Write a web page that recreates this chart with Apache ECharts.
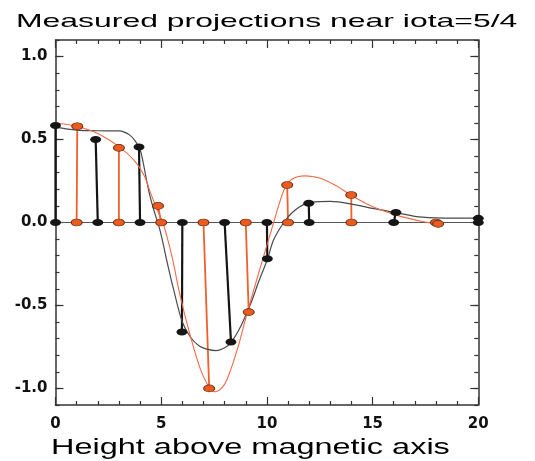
<!DOCTYPE html>
<html>
<head>
<meta charset="utf-8">
<script src="https://cdn.jsdelivr.net/npm/echarts@6/dist/echarts.min.js"></script>
<style>html,body{margin:0;padding:0;background:#fff}#c{width:535px;height:461px}</style>
</head>
<body>
<div id="c"></div>
<script>
const titleText = 'Measured projections near iota=5/4';
const xAxisTitle = 'Height above magnetic axis';
const xTicks = [0, 5, 10, 15, 20];
const yMajorTicks = [-1.0, -0.5, 0.0, 0.5, 1.0];
const yMinorTicks = [-1.1, -1.0, -0.9, -0.8, -0.7, -0.6, -0.5, -0.4, -0.3, -0.2, -0.1, 0.0,
  0.1, 0.2, 0.3, 0.4, 0.5, 0.6, 0.7, 0.8, 0.9, 1.0, 1.1];

// black stems: base position on axis, tip position and value
const blackBaseX = [0, 2, 4, 6, 8, 10, 12, 16, 20];
const blackTipX  = [0, 1.9, 3.95, 5.98, 8.3, 10.02, 11.98, 16.1, 20];
const blackTipY  = [0.585, 0.50, 0.455, -0.66, -0.72, -0.218, 0.116, 0.06, 0.025];

// orange stems
const orangeBaseX = [1, 3, 5, 7, 9, 11, 14, 18];
const orangeTipX  = [1.03, 3.0, 4.85, 7.27, 9.14, 10.96, 13.99, 18.1];
const orangeTipY  = [0.58, 0.45, 0.10, -1.0, -0.54, 0.226, 0.166, -0.008];

// smooth fitted curves
const blackCurveX = [0, 1, 2, 3, 3.25, 3.5, 3.75, 4.0, 4.15, 4.3, 4.45, 4.64, 4.95, 5.3, 5.58, 6.0, 6.38, 6.8, 7.2, 7.6, 8.0, 8.3, 8.77, 9.25, 9.6, 10.03, 10.32, 10.8, 11.2, 11.74, 12.5, 13.0, 14.2, 15.0, 16.1, 17.35, 18.9, 20];
const blackCurveY = [0.575, 0.557, 0.553, 0.552, 0.545, 0.528, 0.495, 0.44, 0.36, 0.26, 0.17, 0.08, -0.05, -0.25, -0.40, -0.60, -0.69, -0.745, -0.765, -0.772, -0.755, -0.724, -0.624, -0.484, -0.36, -0.22, -0.104, 0.0, 0.06, 0.108, 0.126, 0.127, 0.106, 0.085, 0.06, 0.032, 0.026, 0.026];
const orangeCurveX = [0, 1, 2, 3, 3.7, 4.18, 4.5, 4.8, 5.1, 5.5, 5.9, 6.38, 6.86, 7.33, 7.57, 7.85, 8.12, 8.6, 9.07, 9.69, 10.32, 10.6, 10.9, 11.2, 11.5, 11.8, 12.2, 12.6, 13.3, 13.96, 14.99, 16.09, 17.35, 18.07];
const orangeCurveY = [0.60, 0.58, 0.537, 0.457, 0.377, 0.287, 0.177, 0.08, -0.01, -0.2, -0.444, -0.684, -0.885, -1.005, -1.02, -1.0, -0.945, -0.765, -0.544, -0.27, 0.0, 0.12, 0.222, 0.262, 0.277, 0.281, 0.276, 0.264, 0.22, 0.166, 0.096, 0.046, 0.006, -0.008];

const axisColor = '#333';
const blackColor = '#151515';
const orangeColor = '#ec5a1e';
const orangeStem = '#f0602c';

function pairs(xs, ys) { return xs.map((x, i) => [x, ys[i]]); }
function stems(base, tx, ty) { return base.map((b, i) => [b, tx[i], ty[i]]); }
function stemRenderer(color, width) {
  return function (params, api) {
    const p0 = api.coord([api.value(0), 0]);
    const p1 = api.coord([api.value(1), api.value(2)]);
    return { type: 'line', shape: { x1: p0[0], y1: p0[1], x2: p1[0], y2: p1[1] },
      style: { stroke: color, lineWidth: width } };
  };
}

const xMin = xTicks[0], xMax = xTicks[xTicks.length - 1];
const yMin = yMinorTicks[0], yMax = yMinorTicks[yMinorTicks.length - 1];
const labelFont = { fontFamily: 'DejaVu Sans', fontWeight: 'bold', fontSize: 15, color: '#111' };

function xAxisDef(pos, showLabel) {
  return {
    type: 'value', position: pos, min: xMin, max: xMax, interval: xTicks[1] - xTicks[0],
    axisLine: { show: true, onZero: false, lineStyle: { color: axisColor, width: 1.5 } },
    axisTick: { show: true, inside: true, length: 8, lineStyle: { color: axisColor, width: 1.2 } },
    minorTick: { show: true, splitNumber: 5, length: 4, lineStyle: { color: axisColor, width: 1.2 } },
    axisLabel: Object.assign({ show: showLabel, margin: 12, formatter: v => String(v) }, labelFont),
    splitLine: { show: false }, minorSplitLine: { show: false }
  };
}
function yAxisDef(pos, showLabel, ticks, len, line) {
  return {
    type: 'value', position: pos, min: yMin, max: yMax,
    axisLine: { show: line, onZero: false, lineStyle: { color: axisColor, width: 1.5 } },
    axisTick: { show: true, inside: true, length: len, customValues: ticks, lineStyle: { color: axisColor, width: 1.2 } },
    axisLabel: Object.assign({ show: showLabel, margin: 8, customValues: yMajorTicks, formatter: v => v.toFixed(1) }, labelFont),
    splitLine: { show: false }
  };
}

const chart = echarts.init(document.getElementById('c'), null, { renderer: 'canvas' });
chart.setOption({
  animation: false,
  backgroundColor: '#fff',
  grid: { left: 55.5, right: 56.7, top: 40, bottom: 56 },
  xAxis: [xAxisDef('bottom', true), xAxisDef('top', false)],
  yAxis: [
    yAxisDef('left', true, yMajorTicks, 8, true),
    yAxisDef('left', false, yMinorTicks, 4, false),
    yAxisDef('right', false, yMajorTicks, 8, true),
    yAxisDef('right', false, yMinorTicks, 4, false)
  ],
  graphic: [
    { type: 'text', x: 16, y: 22, scaleX: 1.68,
      style: { text: titleText, font: '19px "Liberation Sans"', fill: '#000', textVerticalAlign: 'middle' } },
    { type: 'text', x: 51, y: 448, scaleX: 1.51,
      style: { text: xAxisTitle, font: '21.5px "Liberation Sans"', fill: '#000', textVerticalAlign: 'middle' } }
  ],
  series: [
    { type: 'line', data: [[xMin, 0], [xMax, 0]], symbol: 'none', lineStyle: { color: '#555', width: 1.2 }, z: 1 },
    { type: 'custom', data: stems(blackBaseX, blackTipX, blackTipY), encode: { x: [0, 1], y: 2 },
      renderItem: stemRenderer(blackColor, 2.2), z: 2 },
    { type: 'custom', data: stems(orangeBaseX, orangeTipX, orangeTipY), encode: { x: [0, 1], y: 2 },
      renderItem: stemRenderer(orangeStem, 1.8), z: 2 },
    { type: 'line', data: pairs(blackCurveX, blackCurveY), smooth: 0.35, symbol: 'none',
      lineStyle: { color: '#4a4a4a', width: 1.2 }, z: 3 },
    { type: 'line', data: pairs(orangeCurveX, orangeCurveY), smooth: 0.35, symbol: 'none',
      lineStyle: { color: '#f46a48', width: 1.1 }, z: 3 },
    { type: 'scatter', data: blackBaseX.map(x => [x, 0]), symbol: 'circle', symbolSize: [11, 7],
      itemStyle: { color: blackColor, opacity: 1 }, z: 5 },
    { type: 'scatter', data: pairs(blackTipX, blackTipY), symbol: 'circle', symbolSize: [11, 7],
      itemStyle: { color: blackColor, opacity: 1 }, z: 5 },
    { type: 'scatter', data: orangeBaseX.map(x => [x, 0]), symbol: 'circle', symbolSize: [11, 7],
      itemStyle: { color: orangeColor, borderColor: '#5a2a10', borderWidth: 0.8, opacity: 1 }, z: 5 },
    { type: 'scatter', data: pairs(orangeTipX, orangeTipY), symbol: 'circle', symbolSize: [11, 7],
      itemStyle: { color: orangeColor, borderColor: '#5a2a10', borderWidth: 0.8, opacity: 1 }, z: 5 }
  ]
});
</script>
</body>
</html>
